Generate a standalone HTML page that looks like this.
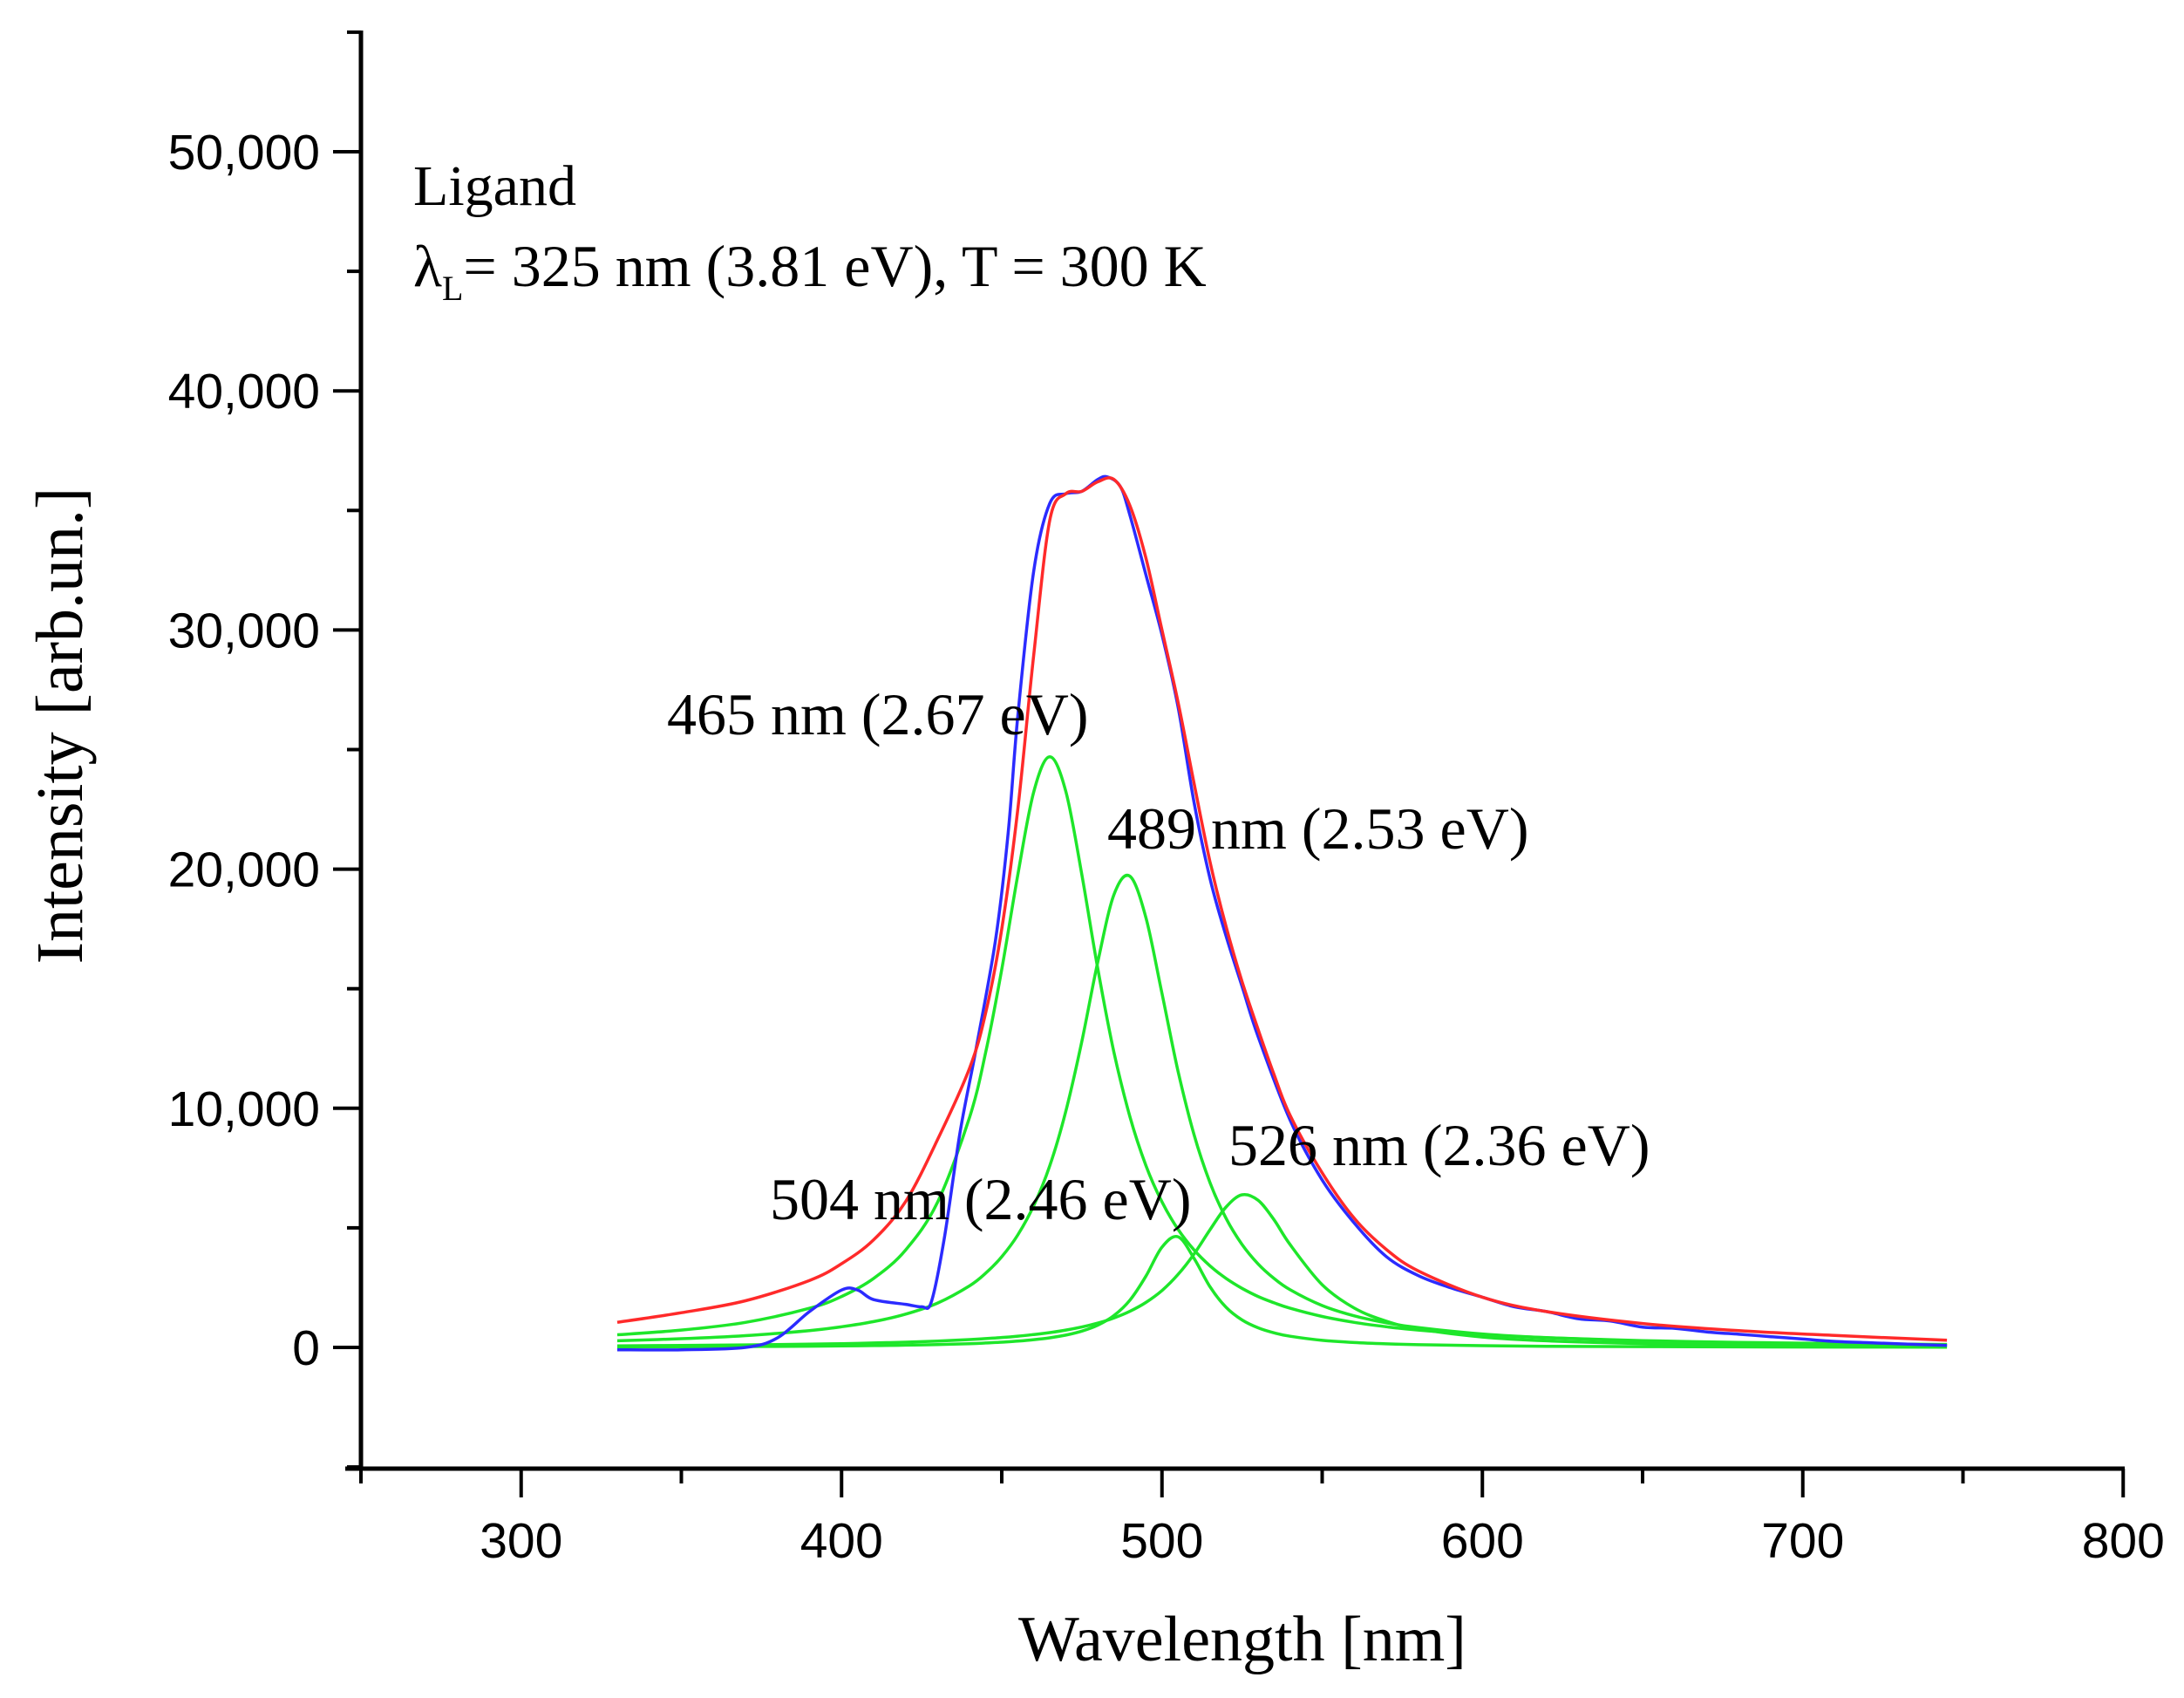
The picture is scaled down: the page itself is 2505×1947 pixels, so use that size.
<!DOCTYPE html>
<html><head><meta charset="utf-8">
<style>
html,body{margin:0;padding:0;background:#fff;}
svg{display:block;}
.tk{font-family:"Liberation Sans",Arial,sans-serif;font-size:57px;fill:#000;}
.sr{font-family:"Liberation Serif","Times New Roman",serif;fill:#000;}
</style></head>
<body>
<svg id="chart" width="2505" height="1947" viewBox="0 0 2505 1947" xmlns="http://www.w3.org/2000/svg">
<g id="axes"></g>
<g id="series"></g>
<g id="labels">
<text class="sr" x="474" y="235" font-size="66">Ligand</text>
<text class="sr" x="474" y="328" font-size="68">λ<tspan font-size="40" dy="16">L</tspan><tspan dy="-16">= 325 nm (3.81 eV), T = 300 K</tspan></text>
<text class="sr" x="765" y="842" font-size="68">465 nm (2.67 eV)</text>
<text class="sr" x="1270" y="973" font-size="68">489 nm (2.53 eV)</text>
<text class="sr" x="1409" y="1336" font-size="68">526 nm (2.36 eV)</text>
<text class="sr" x="883" y="1398" font-size="68">504 nm (2.46 eV)</text>
<text class="sr" x="1425" y="1904" font-size="74" text-anchor="middle">Wavelength [nm]</text>
<text class="sr" x="0" y="0" font-size="76" text-anchor="middle" transform="translate(94,832) rotate(-90)">Intensity [arb.un.]</text>
</g>
</svg>
<script>
const xTicks = [300, 400, 500, 600, 700, 800];
const xTickLabels = ["300", "400", "500", "600", "700", "800"];
const yTicks = [0, 10000, 20000, 30000, 40000, 50000];
const yTickLabels = ["0", "10,000", "20,000", "30,000", "40,000", "50,000"];

const fitWavelengths = [330,350,370,390,400,410,420,430,440,445,450,455,460,465,470,475,480,485,490,495,500,505,510,515,520,525,530,535,540,550,560,570,580,600,620,650,680,710,745];
const peak465 = [530,724,1047,1636,2129,2886,4076,6084,9648,12350,15808,19760,23247,24700,23247,19760,15808,12350,9648,7600,6084,4940,4076,3407,2886,2470,2129,1864,1636,1296,1047,864,724,530,405,285,212,164,125];
const peak489 = [278,363,491,703,863,1080,1392,1857,2583,3107,3793,4705,5934,7600,9880,12806,16144,18927,19705,17964,14801,11562,8901,6885,5399,4305,3491,2880,2410,1749,1321,1029,827,563,407,271,194,145,108];
const peak504 = [22,28,37,51,61,75,93,119,158,185,219,263,323,402,516,681,932,1331,1975,2982,4194,4628,3728,2533,1677,1148,819,608,466,297,204,149,113,72,49,31,22,16,12];
const peak526 = [66,82,104,136,157,185,220,267,328,368,415,470,538,621,724,853,1017,1231,1509,1882,2379,3048,3902,4923,5872,6384,6154,5333,4295,2623,1645,1096,772,435,277,162,106,75,53];
const fitTotal = [1050,1450,1950,2800,3500,4500,6100,8700,11700,14000,17500,22500,29000,34600,35700,35800,36200,36300,35200,33000,30000,27000,23600,20300,17600,15300,13300,11400,9700,7300,5400,4100,3200,2100,1500,1000,700,500,300];

const measWavelengths = [330,350,370,380,390,400,405,410,420,425,428,432,437,442,448,452,455,460,465,470,475,480,483,487,490,495,500,505,510,515,520,525,530,540,550,560,570,580,590,600,610,620,630,640,650,660,670,680,690,700,710,720,730,745];
const measured = [-100,-100,0,400,1500,2400,2400,2000,1800,1700,1900,4500,9000,12500,17000,21500,26400,32500,35300,35700,35800,36300,36400,36000,34800,32300,29800,26800,22800,19600,17200,15100,13000,9500,7000,5200,3800,3000,2500,2100,1700,1500,1200,1100,850,800,650,550,450,350,250,200,150,80];

const NS = "http://www.w3.org/2000/svg";
function xs(v){ return 414 + (v - 250) * 3.675; }
function ys(v){ return 1545 - v * 1371 / 50000; }
function mk(tag, attrs, parent){ const e = document.createElementNS(NS, tag); for (const k in attrs) e.setAttribute(k, attrs[k]); parent.appendChild(e); return e; }

const axes = document.getElementById('axes');
let yAxis = mk('line', {x1:414, y1:35, x2:414, y2:1684, stroke:'#000','stroke-width':5}, axes);


let xAxis = mk('line', {x1:396, y1:1684, x2:2437, y2:1684, stroke:'#000','stroke-width':5}, axes);



for (let v = -5000; v <= 55000; v += 5000) {
  const major = v % 10000 === 0;
  const t = mk('line', {x1: major ? 382 : 398, y1: ys(v), x2: 414, y2: ys(v), stroke:'#000','stroke-width':4}, axes);
  
  
}
yTicks.forEach((v, i) => {
  const t = mk('text', {x: 367, y: ys(v) + 20, 'text-anchor':'end', class:'tk'}, axes);
  t.textContent = yTickLabels[i];
  
  
});
for (let v = 250; v <= 800; v += 50) {
  const major = v % 100 === 0;
  const t = mk('line', {x1: xs(v), y1: 1684, x2: xs(v), y2: major ? 1717 : 1701, stroke:'#000','stroke-width':4}, axes);
  
  
}
xTicks.forEach((v, i) => {
  const t = mk('text', {x: xs(v), y: 1786, 'text-anchor':'middle', class:'tk'}, axes);
  t.textContent = xTickLabels[i];
  
  
});

function smoothPath(xsArr, vals){
  const p = xsArr.map((x, i) => [xs(x), ys(vals[i])]);
  let d = 'M' + p[0][0].toFixed(1) + ',' + p[0][1].toFixed(1);
  for (let i = 0; i < p.length - 1; i++) {
    const p0 = p[Math.max(0, i - 1)], p1 = p[i], p2 = p[i + 1], p3 = p[Math.min(p.length - 1, i + 2)];
    const c1x = p1[0] + (p2[0] - p0[0]) / 6, c1y = p1[1] + (p2[1] - p0[1]) / 6;
    const c2x = p2[0] - (p3[0] - p1[0]) / 6, c2y = p2[1] - (p3[1] - p1[1]) / 6;
    d += ' C' + c1x.toFixed(1) + ',' + c1y.toFixed(1) + ' ' + c2x.toFixed(1) + ',' + c2y.toFixed(1) + ' ' + p2[0].toFixed(1) + ',' + p2[1].toFixed(1);
  }
  return d;
}
const series = document.getElementById('series');
const green = '#1ee62a';
let g1 = mk('path', {d: smoothPath(fitWavelengths, peak465), fill:'none', stroke:green, 'stroke-width':3.5}, series);


let g2 = mk('path', {d: smoothPath(fitWavelengths, peak489), fill:'none', stroke:green, 'stroke-width':3.5}, series);


let g3 = mk('path', {d: smoothPath(fitWavelengths, peak504), fill:'none', stroke:green, 'stroke-width':3.5}, series);


let g4 = mk('path', {d: smoothPath(fitWavelengths, peak526), fill:'none', stroke:green, 'stroke-width':3.5}, series);


let bl = mk('path', {d: smoothPath(measWavelengths, measured), fill:'none', stroke:'#2b2bff', 'stroke-width':3.5}, series);


let rd = mk('path', {d: smoothPath(fitWavelengths, fitTotal), fill:'none', stroke:'#ff2a2a', 'stroke-width':3.5}, series);


</script>
</body></html>
